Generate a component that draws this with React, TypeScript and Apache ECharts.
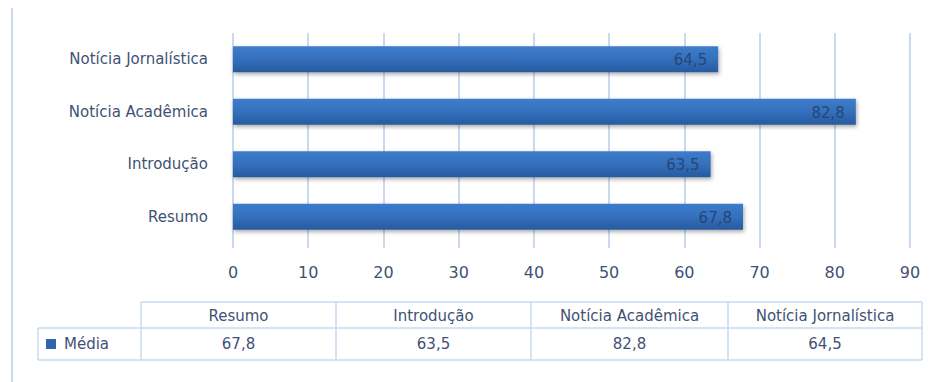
import React, { useEffect, useRef } from "react";
import * as echarts from "echarts";

const categories = ["Resumo", "Introdução", "Notícia Acadêmica", "Notícia Jornalística"];
const mediaValues = [67.8, 63.5, 82.8, 64.5];
const seriesName = "Média";
const xTicks = { min: 0, max: 90, interval: 10 };

const TEXT = "#3f5275";
const LINE = "#c9daf0";
const FONT = "'DejaVu Sans', 'Open Sans', sans-serif";

const fmt = (v: number) => v.toFixed(1).replace(".", ",");

export default function App() {
  const ref = useRef<HTMLDivElement>(null);
  useEffect(() => {
    const chart = echarts.init(ref.current!, null, { renderer: "svg" });
    // table geometry
    const colEdges = [141, 336, 531, 728, 922];
    const rowTop = 302, rowMid = 328, rowBot = 360, leftEdge = 38;
    const graphics: any[] = [];
    graphics.push({ type: "line", shape: { x1: 12, y1: 8, x2: 12, y2: 382 }, style: { stroke: LINE, lineWidth: 2 } });
    graphics.push({ type: "line", shape: { x1: colEdges[0], y1: rowTop, x2: colEdges[4], y2: rowTop }, style: { stroke: LINE, lineWidth: 1.5 } });
    graphics.push({ type: "line", shape: { x1: leftEdge, y1: rowMid, x2: colEdges[4], y2: rowMid }, style: { stroke: LINE, lineWidth: 1.5 } });
    graphics.push({ type: "line", shape: { x1: leftEdge, y1: rowBot, x2: colEdges[4], y2: rowBot }, style: { stroke: LINE, lineWidth: 1.5 } });
    graphics.push({ type: "line", shape: { x1: leftEdge, y1: rowMid, x2: leftEdge, y2: rowBot }, style: { stroke: LINE, lineWidth: 1.5 } });
    colEdges.forEach((x) => {
      graphics.push({ type: "line", shape: { x1: x, y1: rowTop, x2: x, y2: rowBot }, style: { stroke: LINE, lineWidth: 1.5 } });
    });
    categories.forEach((c, i) => {
      const cx = (colEdges[i] + colEdges[i + 1]) / 2;
      graphics.push({
        type: "text", x: cx, y: (rowTop + rowMid) / 2 + 1,
        style: { text: c, fill: TEXT, font: `15px ${FONT}`, align: "center", verticalAlign: "middle" },
      });
      graphics.push({
        type: "text", x: cx, y: (rowMid + rowBot) / 2,
        style: { text: fmt(mediaValues[i]), fill: TEXT, font: `15px ${FONT}`, align: "center", verticalAlign: "middle" },
      });
    });
    graphics.push({ type: "rect", shape: { x: 46, y: 339, width: 10, height: 10 }, style: { fill: "#3065ad" } });
    graphics.push({
      type: "text", x: 64, y: (rowMid + rowBot) / 2,
      style: { text: seriesName, fill: TEXT, font: `15px ${FONT}`, align: "left", verticalAlign: "middle" },
    });

    chart.setOption({
      animation: false,
      backgroundColor: "#ffffff",
      grid: { left: 233, right: 31, top: 33, bottom: 139, containLabel: false },
      xAxis: {
        type: "value",
        min: xTicks.min, max: xTicks.max, interval: xTicks.interval,
        axisLine: { show: false },
        axisTick: { show: true, length: 5, lineStyle: { color: LINE, width: 2 } },
        splitLine: { show: true, lineStyle: { color: LINE, width: 2 } },
        axisLabel: { color: TEXT, fontSize: 16, fontFamily: FONT, margin: 21 },
      },
      yAxis: {
        type: "category",
        data: categories,
        axisLine: { show: false },
        axisTick: { show: false },
        axisLabel: { color: TEXT, fontSize: 15, fontFamily: FONT, margin: 25 },
      },
      series: [
        {
          name: seriesName,
          type: "bar",
          data: mediaValues,
          barWidth: 26,
          itemStyle: {
            color: new echarts.graphic.LinearGradient(0, 0, 0, 1, [
              { offset: 0, color: "#3d7ccb" },
              { offset: 0.5, color: "#3470bd" },
              { offset: 1, color: "#275a9e" },
            ]),
            shadowColor: "rgba(0,0,0,0.35)",
            shadowBlur: 4,
            shadowOffsetX: 1,
            shadowOffsetY: 2,
          },
          label: {
            show: true,
            position: "insideRight",
            offset: [-6, 1],
            color: "#264676",
            fontSize: 15,
            fontFamily: FONT,
            formatter: (p: any) => fmt(p.value),
          },
        },
      ],
      graphic: graphics,
    });
    return () => chart.dispose();
  }, []);
  return <div ref={ref} style={{ width: 941, height: 382, position: "absolute", left: 0, top: 0 }} />;
}
